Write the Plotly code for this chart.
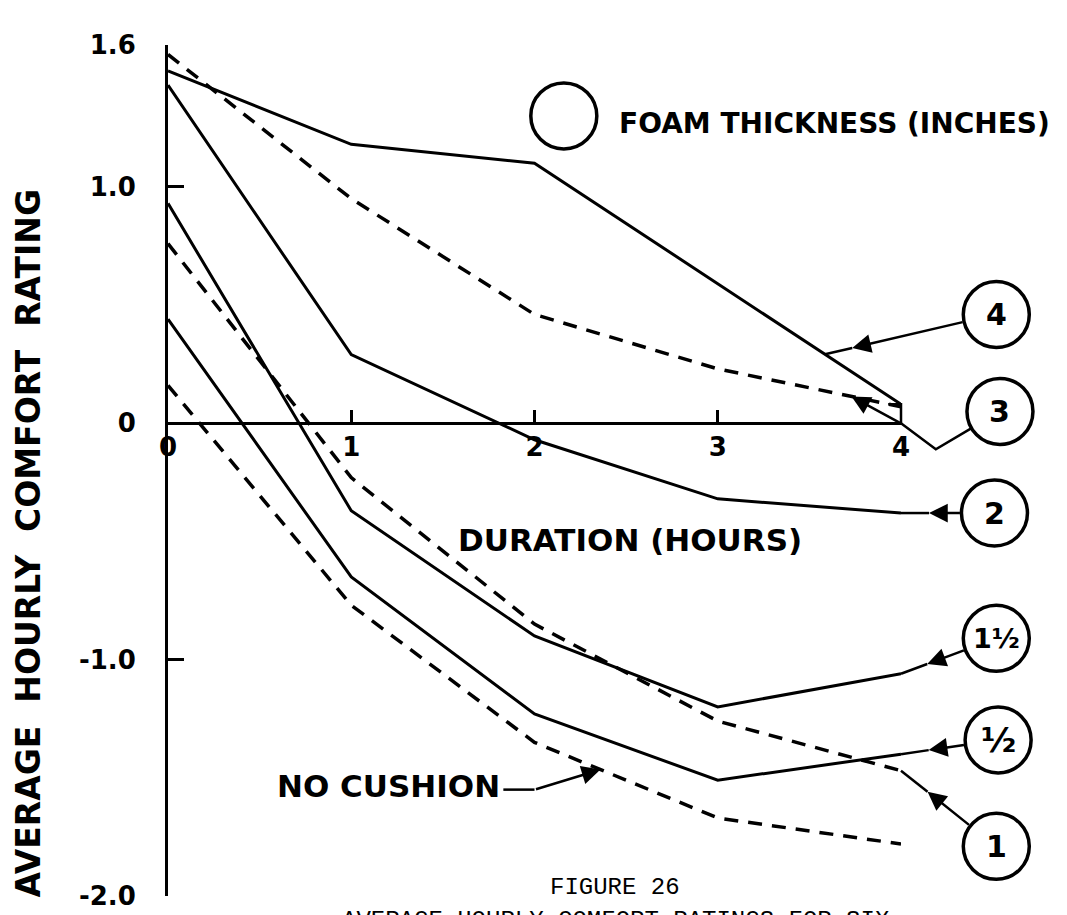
import numpy as np
import plotly.graph_objects as go

# ---- data ----
hours = [0, 1, 2, 3, 4]

# solid curves
foam_4 = [1.49, 1.18, 1.10, 0.59, 0.08]
foam_2 = [1.43, 0.29, -0.07, -0.32, -0.38]
foam_1_5 = [0.93, -0.37, -0.90, -1.20, -1.06]
foam_0_5 = [0.44, -0.65, -1.23, -1.51, -1.40]
# dashed curves
foam_3 = [1.56, 0.95, 0.46, 0.23, 0.07]
foam_1 = [0.76, -0.23, -0.85, -1.26, -1.47]
no_cushion = [0.16, -0.77, -1.35, -1.67, -1.78]

y_tick_vals = [1.6, 1.0, 0, -1.0, -2.0]
y_tick_text = ["1.6", "1.0", "0", "-1.0", "-2.0"]
x_tick_vals = [0, 1, 2, 3, 4]
x_tick_text = ["0", "1", "2", "3", "4"]

# circled labels: text, centre (hours, rating)
circle_text = ["4", "3", "2", "1½", "½", "1"]
circle_x = [4.52, 4.54, 4.51, 4.52, 4.53, 4.52]
circle_y = [0.46, 0.05, -0.38, -0.91, -1.34, -1.79]

# ---- layout geometry ----
W, H = 1067, 915
MARGIN = dict(l=160, r=174, t=37, b=22)
X_RANGE = [0, 4]
Y_RANGE = [-2.0, 1.6]
PX_X = (W - MARGIN["l"] - MARGIN["r"]) / (X_RANGE[1] - X_RANGE[0])
PX_Y = (H - MARGIN["t"] - MARGIN["b"]) / (Y_RANGE[1] - Y_RANGE[0])
R = 33  # circle radius in px
FONT = "DejaVu Sans"


def px(x):
    return (x - X_RANGE[0]) / (X_RANGE[1] - X_RANGE[0])


def py(y):
    return (y - Y_RANGE[0]) / (Y_RANGE[1] - Y_RANGE[0])


fig = go.Figure()

solid = dict(color="black", width=3)
dashed = dict(color="black", width=3.5, dash="14px,10px")
for ys, line in [(foam_4, solid), (foam_3, dashed), (foam_2, solid),
                 (foam_1_5, solid), (foam_1, dashed), (foam_0_5, solid),
                 (no_cushion, dashed)]:
    fig.add_trace(go.Scatter(x=hours, y=ys, mode="lines", line=line,
                             showlegend=False, hoverinfo="skip"))

shapes = []
annotations = []


def text_at(x, y, text, font, xanchor="center", yanchor="middle", **kw):
    annotations.append(dict(x=x, y=y, xref="paper", yref="paper", text=text,
                            showarrow=False, font=font, xanchor=xanchor,
                            yanchor=yanchor, **kw))


def circle(cx, cy, text, size=28):
    shapes.append(dict(type="circle", xref="paper", yref="paper",
                       xsizemode="pixel", ysizemode="pixel",
                       xanchor=px(cx), yanchor=py(cy),
                       x0=-R, x1=R, y0=-R, y1=R,
                       line=dict(color="black", width=3.5)))
    if text:
        text_at(px(cx), py(cy), text,
                dict(family=FONT, size=size, color="black", weight="bold"))


def arrow(hx, hy, tx, ty):
    # arrow with head at (hx, hy), tail at (tx, ty), data units
    annotations.append(dict(x=px(hx), y=py(hy), xref="paper", yref="paper",
                            ax=(tx - hx) * PX_X, ay=-(ty - hy) * PX_Y,
                            axref="pixel", ayref="pixel", text="",
                            showarrow=True, arrowhead=2, arrowsize=1.5,
                            arrowwidth=2.5, arrowcolor="black", standoff=0))


def seg(points):
    path = "M " + " L ".join(f"{px(x)},{py(y)}" for x, y in points)
    shapes.append(dict(type="path", xref="paper", yref="paper", path=path,
                       line=dict(color="black", width=2.5)))


def leader(cx, cy, target_x, ys, back=28):
    # leader from circle edge to a point on a curve, arrowhead set back a little
    tx, ty = target_x, float(np.interp(target_x, hours, ys))
    dx, dy = (tx - cx) * PX_X, (ty - cy) * PX_Y
    d = np.hypot(dx, dy)
    ex, ey = cx + dx / d * R / PX_X, cy + dy / d * R / PX_Y
    hx, hy = tx - dx / d * back / PX_X, ty - dy / d * back / PX_Y
    arrow(hx, hy, ex, ey)
    seg([(hx, hy), (tx, ty)])


sizes = {"1½": 27, "½": 34}
for t, cx, cy in zip(circle_text, circle_x, circle_y):
    circle(cx, cy, t, sizes.get(t, 30))

leader(circle_x[0], circle_y[0], 3.585, foam_4)
leader(circle_x[2], circle_y[2], 4.0, foam_2)
leader(circle_x[3], circle_y[3], 4.0, foam_1_5)
leader(circle_x[4], circle_y[4], 4.0, foam_0_5)
leader(circle_x[5], circle_y[5], 4.0, foam_1, back=34)

# leader for "3": bent line under the axis, then arrow onto the dashed curve
kx, ky = 4.19, -0.11
dx, dy = (kx - circle_x[1]) * PX_X, (ky - circle_y[1]) * PX_Y
d = np.hypot(dx, dy)
seg([(circle_x[1] + dx / d * R / PX_X, circle_y[1] + dy / d * R / PX_Y),
     (kx, ky), (4.0, 0.0)])
arrow(3.73, float(np.interp(3.73, hours, foam_3)), 4.0, 0.0)

# small hook where curve 4 meets the axis
seg([(3.93, foam_4[-1]), (4.0, foam_4[-1]), (4.0, 0.0)])

# "NO CUSHION" pointer
seg([(1.83, -1.55), (2.0, -1.55)])
arrow(2.36, float(np.interp(2.36, hours, no_cushion)), 2.0, -1.55)

# legend circle
circle(2.16, 1.30, "")

label_font = dict(family=FONT, size=28, color="black", weight="bold")
mono = dict(family="Liberation Mono", size=24, color="black")
text_at(px(2.45), py(1.267), "FOAM THICKNESS (INCHES)", label_font,
        xanchor="left")
text_at(px(1.57), py(-0.494), "DURATION (HOURS)",
        dict(label_font, size=31), xanchor="left")
text_at(px(1.82), py(-1.535), "NO CUSHION", dict(label_font, size=31),
        xanchor="right")
text_at(-0.19, 0.415,
        "AVERAGE\u00a0\u00a0HOURLY\u00a0\u00a0COMFORT\u00a0\u00a0RATING",
        dict(label_font, size=33), textangle=-90)
text_at(0.61, py(-1.966), "FIGURE 26", mono)
text_at(0.61, py(-2.04), "AVERAGE HOURLY COMFORT RATINGS FOR SIX", mono,
        yanchor="top")

tick_font = dict(family=FONT, size=26, color="black", weight="bold")
fig.update_layout(
    width=W, height=H, margin=MARGIN,
    paper_bgcolor="white", plot_bgcolor="white",
    shapes=shapes, annotations=annotations,
    xaxis=dict(range=X_RANGE, anchor="free", position=py(0),
               showline=True, linecolor="black", linewidth=3,
               ticks="inside", ticklen=12, tickwidth=3, tickcolor="black",
               tickvals=x_tick_vals, ticktext=x_tick_text, tickfont=tick_font,
               ticklabelstandoff=0, showgrid=False, zeroline=False),
    yaxis=dict(range=Y_RANGE, showline=True, linecolor="black", linewidth=3,
               ticks="inside", ticklen=16, tickwidth=3, tickcolor="black",
               tickvals=y_tick_vals, ticktext=y_tick_text, tickfont=tick_font,
               ticklabelstandoff=24, showgrid=False, zeroline=False),
)

fig.write_html("out.html")
